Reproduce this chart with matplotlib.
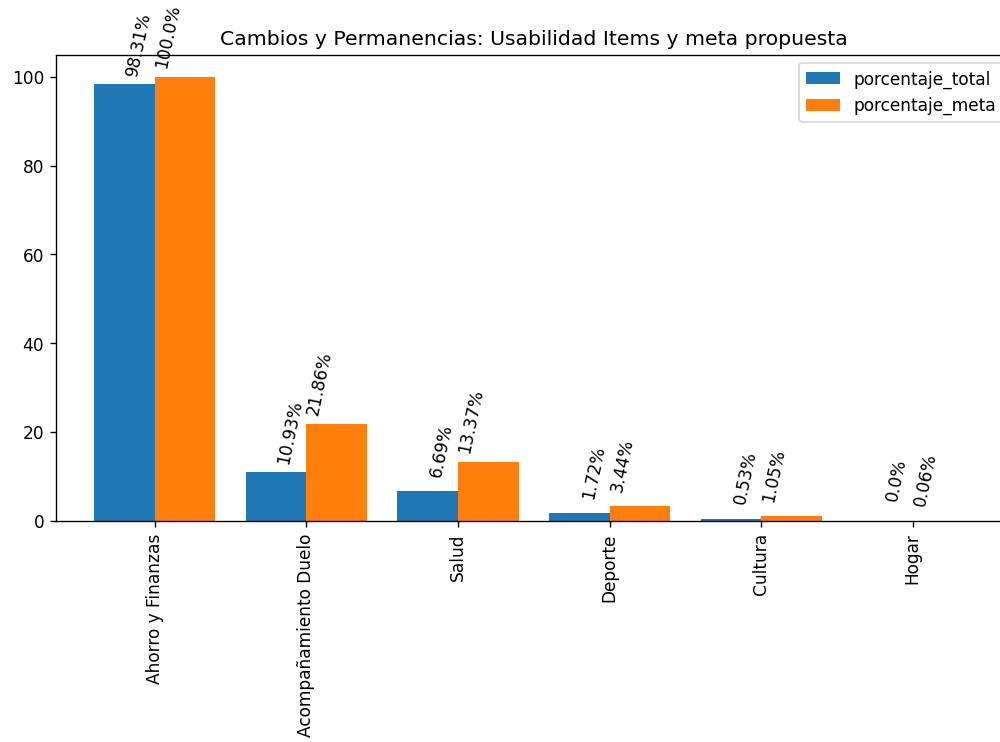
import numpy as np
import matplotlib
matplotlib.use('Agg')
from matplotlib import pyplot as plt

# DATA
categorias = ['Ahorro y Finanzas', 'Acompañamiento Duelo', 'Salud', 'Deporte', 'Cultura', 'Hogar']
porcentaje_total = [98.31, 10.93, 6.69, 1.72, 0.53, 0.0]
porcentaje_meta = [100.0, 21.86, 13.37, 3.44, 1.05, 0.06]

DPI = 122


def main():
    fig = plt.figure(figsize=(1000.4 / DPI, 742.4 / DPI), dpi=DPI)
    ax = fig.add_axes([0.056, 0.2978, 0.955, 0.6281])

    x = np.arange(len(categorias))
    width = 0.4
    ax.bar(x - width / 2, porcentaje_total, width, label='porcentaje_total', color='#1f77b4')
    ax.bar(x + width / 2, porcentaje_meta, width, label='porcentaje_meta', color='#ff7f0e')

    # value labels, rotated above each category
    for xi, value in zip(x, porcentaje_total):
        ax.annotate(str(value) + '%', (xi, value), xytext=(-9.4, 24.2), textcoords='offset points',
                    ha='center', va='center', rotation=78, fontsize=10)
    for xi, value in zip(x, porcentaje_meta):
        ax.annotate(str(value) + '%', (xi, value), xytext=(7.7, 24.2), textcoords='offset points',
                    ha='center', va='center', rotation=78, fontsize=10)

    ax.set_xticks(x)
    ax.set_xticklabels(categorias, rotation=90)
    ax.set_xlim(-0.65, len(categorias) - 1 + 0.65)
    ax.set_yticks(np.arange(0, 101, 20))
    ax.set_title('Cambios y Permanencias: Usabilidad Items y meta propuesta')
    ax.legend(loc='upper right')

    fig.savefig('out.png', dpi=DPI)


if __name__ == '__main__':
    main()
